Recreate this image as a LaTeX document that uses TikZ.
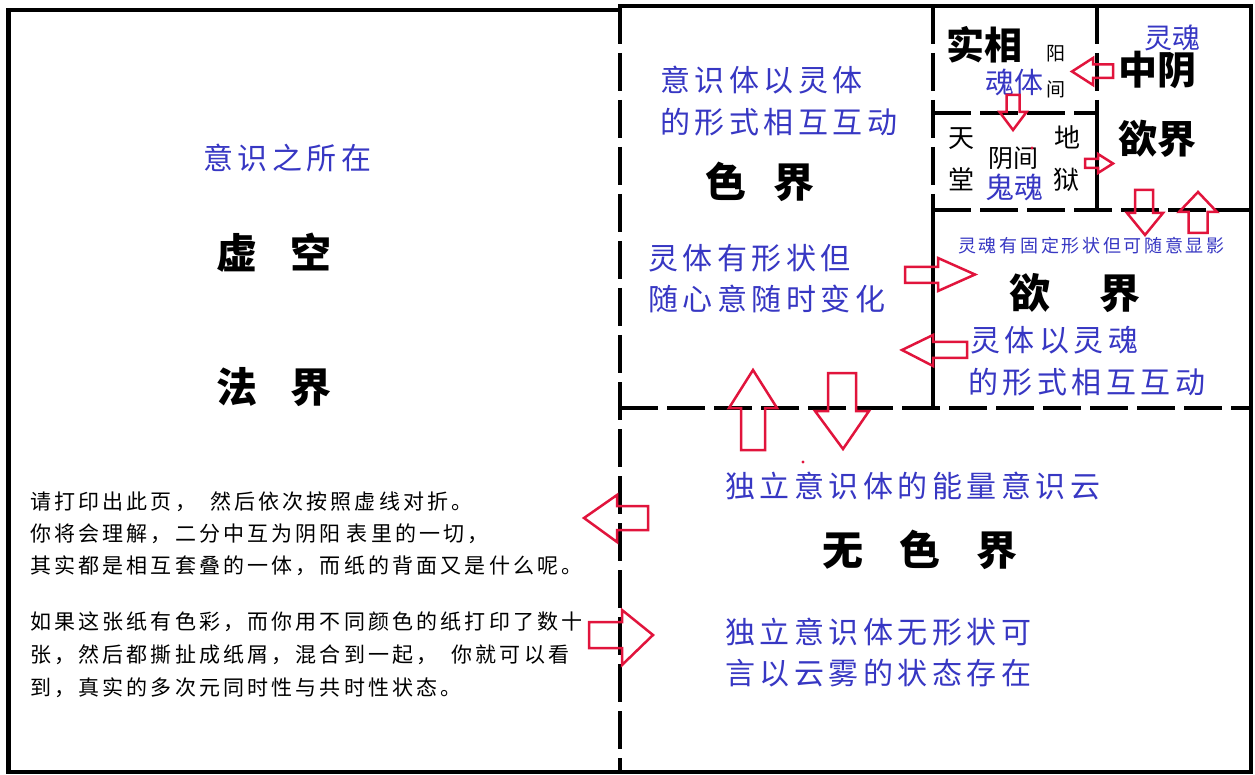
\documentclass[tikz,border=0pt]{standalone}
\usepackage{fontspec}
\newfontfamily\cjk{Noto Sans CJK SC}
\newfontfamily\cjks[LetterSpace=15]{Noto Sans CJK SC}
\newfontfamily\cjkp[LetterSpace=15]{Noto Sans CJK SC}
\definecolor{inkblue}{RGB}{55,55,195}
\definecolor{arrowred}{RGB}{225,20,60}
\tikzset{
  frameline/.style={line width=4.5pt, black},
  dashline/.style={line width=4.5pt, black, dash pattern=on 38pt off 9pt},
  blockarrow/.style={line width=2.5pt, arrowred, line join=miter},
  bluetxt/.style={inner sep=0pt, anchor=west, text=inkblue, font=\cjks\fontsize{30}{36}\selectfont},
  smallblue/.style={inner sep=0pt, anchor=west, text=inkblue, font=\cjks\fontsize{18}{22}\selectfont},
  bigbold/.style={inner sep=0pt, text=black, font=\cjk\bfseries\fontsize{41}{48}\selectfont},
  midblack/.style={inner sep=0pt, text=black, font=\cjk\fontsize{26}{30}\selectfont},
  smallblack/.style={inner sep=0pt, text=black, font=\cjk\fontsize{19}{22}\selectfont},
  paratxt/.style={inner sep=0pt, anchor=west, text=black, font=\cjkp\fontsize{21}{25}\selectfont},
  reddot/.style={fill=arrowred, draw=none}
}
\begin{document}
\begin{tikzpicture}[x=1pt, y=-1pt]
\useasboundingbox (0,0) rectangle (1255,775);
\fill[white] (0,0) rectangle (1255,775);

% ---- frame and fold lines ----
\draw[frameline] (8.5,10) -- (620,10);
\draw[frameline] (618,6) -- (1251,6) -- (1251,772) -- (8.5,772) -- (8.5,8);
\draw[dashline] (620,6) -- (620,772);
\draw[dashline] (620,408) -- (1251,408);
\draw[dashline] (933,6) -- (933,210);
\draw[frameline] (933,210) -- (933,408);
\draw[dashline] (933,210) -- (1251,210);
\draw[dashline] (1097,6) -- (1097,113);
\draw[frameline] (1097,113) -- (1097,210);
\draw[dashline] (933,113) -- (1097,113);

% ---- left panel ----
\node[bluetxt] (yishi) at (203,158) {意识之所在};
\node[bigbold] (xukong) at (274,253) {虚\hspace{34pt}空};
\node[bigbold] (fajie) at (274,387) {法\hspace{34pt}界};
\node[paratxt] (p1) at (30,502) {请打印出此页，\hspace{14pt}然后依次按照虚线对折。};
\node[paratxt] (p2) at (30,534) {你将会理解，二分中互为阴阳\hspace{6pt}表里的一切，};
\node[paratxt] (p3) at (30,566) {其实都是相互套叠的一体，而纸的背面又是什么呢。};
\node[paratxt] (p4) at (30,622) {如果这张纸有色彩，而你用不同颜色的纸打印了数十};
\node[paratxt] (p5) at (30,655) {张，然后都撕扯成纸屑，混合到一起，\hspace{14pt}你就可以看};
\node[paratxt] (p6) at (30,688) {到，真实的多次元同时性与共时性状态。};

% ---- 色界 ----
\node[bluetxt] (se1) at (660,80) {意识体以灵体};
\node[bluetxt] (se2) at (660,122) {的形式相互互动};
\node[bigbold] (sejie) at (760,182) {色\hspace{28pt}界};
\node[bluetxt] (se3) at (648,258) {灵体有形状但};
\node[bluetxt] (se4) at (648,299) {随心意随时变化};

% ---- 实相 / 中阴 / 阴间 ----
\node[bigbold, font=\cjk\bfseries\fontsize{38}{44}\selectfont] (shixiang) at (984,45) {实相};
\node[smallblack] (yang) at (1056,54) {阳};
\node[smallblack] (jian1) at (1056,89) {间};
\node[inner sep=0pt, text=inkblue, font=\cjk\fontsize{29}{34}\selectfont] (hunti) at (1014,82) {魂体};
\node[inner sep=0pt, text=inkblue, font=\cjk\fontsize{28}{34}\selectfont] (linghun) at (1172,38) {灵魂};
\node[bigbold, font=\cjk\bfseries\fontsize{39}{44}\selectfont] (zhongyin) at (1157,70) {中阴};
\node[bigbold, font=\cjk\bfseries\fontsize{39}{44}\selectfont] (yujie1) at (1157,139) {欲界};
\node[midblack] (tian) at (961,139) {天};
\node[midblack] (tang) at (961,179) {堂};
\node[midblack] (di) at (1067,137) {地};
\node[midblack] (yu) at (1066,180) {狱};
\node[inner sep=0pt, text=black, font=\cjk\fontsize{25}{30}\selectfont] (yinjian) at (1013,158) {阴间};
\node[inner sep=0pt, text=inkblue, font=\cjk\fontsize{29}{34}\selectfont] (guihun) at (1014,187) {鬼魂};
\fill[reddot] (1032,148) circle (1.6);

% ---- 欲界 ----
\node[smallblue] (yu0) at (958,246) {灵魂有固定形状但可随意显影};
\node[bigbold] (yujie) at (1075,293) {欲\hspace{50pt}界};
\node[bluetxt] (yu1) at (970,340) {灵体以灵魂};
\node[bluetxt] (yu2) at (968,382) {的形式相互互动};

% ---- 无色界 ----
\fill[reddot] (803,462) circle (1.6);
\node[bluetxt] (wu1) at (725,486) {独立意识体的能量意识云};
\node[bigbold] (wusejie) at (920,550) {无\hspace{36pt}色\hspace{36pt}界};
\node[bluetxt] (wu2) at (725,632) {独立意识体无形状可};
\node[bluetxt] (wu3) at (725,673) {言以云雾的状态存在};

% ---- block arrows ----
\draw[blockarrow] (1113,64.5) -- (1093,64.5) -- (1093,58) -- (1072,71.5) -- (1093,85) -- (1093,78) -- (1113,78) -- cycle;
\draw[blockarrow] (1006.5,95) -- (1019.5,95) -- (1019.5,112) -- (1026.5,112) -- (1013,130) -- (999.5,112) -- (1006.5,112) -- cycle;
\draw[blockarrow] (1085,159) -- (1098,159) -- (1098,154) -- (1113,163.5) -- (1098,173) -- (1098,168) -- (1085,168) -- cycle;
\draw[blockarrow] (1135,190) -- (1153,190) -- (1153,213) -- (1163,213) -- (1145,235) -- (1127,213) -- (1135,213) -- cycle;
\draw[blockarrow] (1188.5,233) -- (1188.5,212) -- (1179,212) -- (1198,192) -- (1217,212) -- (1207.5,212) -- (1207.5,233) -- cycle;
\draw[blockarrow] (905,267) -- (938,267) -- (938,258) -- (975,274.5) -- (938,291) -- (938,283) -- (905,283) -- cycle;
\draw[blockarrow] (967,342) -- (933,342) -- (933,335) -- (902,350) -- (933,366) -- (933,358) -- (967,358) -- cycle;
\draw[blockarrow] (741,450) -- (741,408) -- (729,408) -- (753,370) -- (777,408) -- (765,408) -- (765,450) -- cycle;
\draw[blockarrow] (828,373) -- (856,373) -- (856,411) -- (869,411) -- (843,449) -- (815,411) -- (828,411) -- cycle;
\draw[blockarrow] (648,506) -- (617,506) -- (617,495) -- (584,518) -- (617,542) -- (617,530) -- (648,530) -- cycle;
\draw[blockarrow] (589,622) -- (622,622) -- (622,610) -- (653,635) -- (622,665) -- (622,648) -- (589,648) -- cycle;
\end{tikzpicture}
\end{document}
